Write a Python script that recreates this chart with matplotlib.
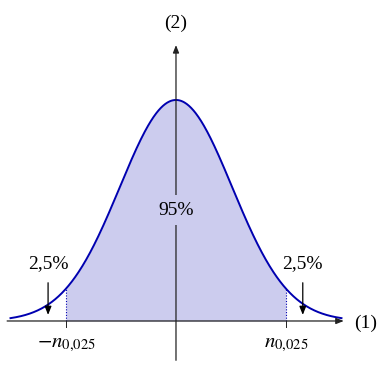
import numpy as np
import matplotlib
matplotlib.use("Agg")
import matplotlib.pyplot as plt

# parameters of the density shown
mu = 0.0
sigma = 1.0
z_crit = 1.96
x_range = (-2.95, 2.95)
central_label = "95%"
tail_label = "2,5%"
tick_labels = [r"$-n_{0{,}025}$", r"$n_{0{,}025}$"]
axis_labels = ["(1)", "(2)"]
tail_arrow_x = [-2.28, 2.26]

plt.rcParams['font.family'] = ['Liberation Serif', 'DejaVu Serif']
plt.rcParams['mathtext.fontset'] = 'stix'

def pdf(x):
    return np.exp(-0.5 * ((x - mu) / sigma) ** 2) / (sigma * np.sqrt(2 * np.pi))

fig = plt.figure(figsize=(3.77, 3.76), dpi=100)
ax = fig.add_axes([0, 0, 1, 1])
ax.set_xlim(-3.137, 3.583)
ax.set_ylim(-0.0993, 0.5794)
ax.axis('off')

line_c = '#0000b0'
fill_c = '#ccccee'
axis_c = '#222222'

xs = np.linspace(x_range[0], x_range[1], 600)
xf = np.linspace(-z_crit, z_crit, 400)
ax.fill_between(xf, 0, pdf(xf), color=fill_c, lw=0, zorder=1)
ax.plot(xs, pdf(xs), color=line_c, lw=1.4, zorder=3)

for z in (-z_crit, z_crit):
    ax.plot([z, z], [0, pdf(z)], color=line_c, lw=0.8, ls=(0, (1, 1.5)), zorder=2)
    ax.plot([z, z], [0, -0.011], color=axis_c, lw=0.7, zorder=2)

# axes
ax.annotate('', xy=(2.99, 0), xytext=(-3.01, 0),
            arrowprops=dict(arrowstyle='-|>,head_length=0.45,head_width=0.18',
                            color=axis_c, lw=0.9, shrinkA=0, shrinkB=0), zorder=4)
ax.annotate('', xy=(0, 0.498), xytext=(0, -0.071),
            arrowprops=dict(arrowstyle='-|>,head_length=0.45,head_width=0.18',
                            color=axis_c, lw=0.9, shrinkA=0, shrinkB=0), zorder=4)
ax.text(3.38, -0.004, axis_labels[0], ha='center', va='center', fontsize=14)
ax.text(0, 0.538, axis_labels[1], ha='center', va='center', fontsize=14)

ax.text(0, 0.200, central_label, ha='center', va='center', fontsize=14, zorder=6,
        bbox=dict(boxstyle='square,pad=0.35', fc=fill_c, ec='none'))

for xa in tail_arrow_x:
    ax.annotate('', xy=(xa, 0.011), xytext=(xa, 0.069),
                arrowprops=dict(arrowstyle='-|>,head_length=0.5,head_width=0.2',
                                color='black', lw=0.9, shrinkA=0, shrinkB=0), zorder=5)
    ax.text(xa, 0.104, tail_label, ha='center', va='center', fontsize=14)

ax.text(-z_crit, -0.043, tick_labels[0], ha='center', va='center', fontsize=15)
ax.text(z_crit, -0.043, tick_labels[1], ha='center', va='center', fontsize=15)

fig.savefig('out.png', dpi=100)
